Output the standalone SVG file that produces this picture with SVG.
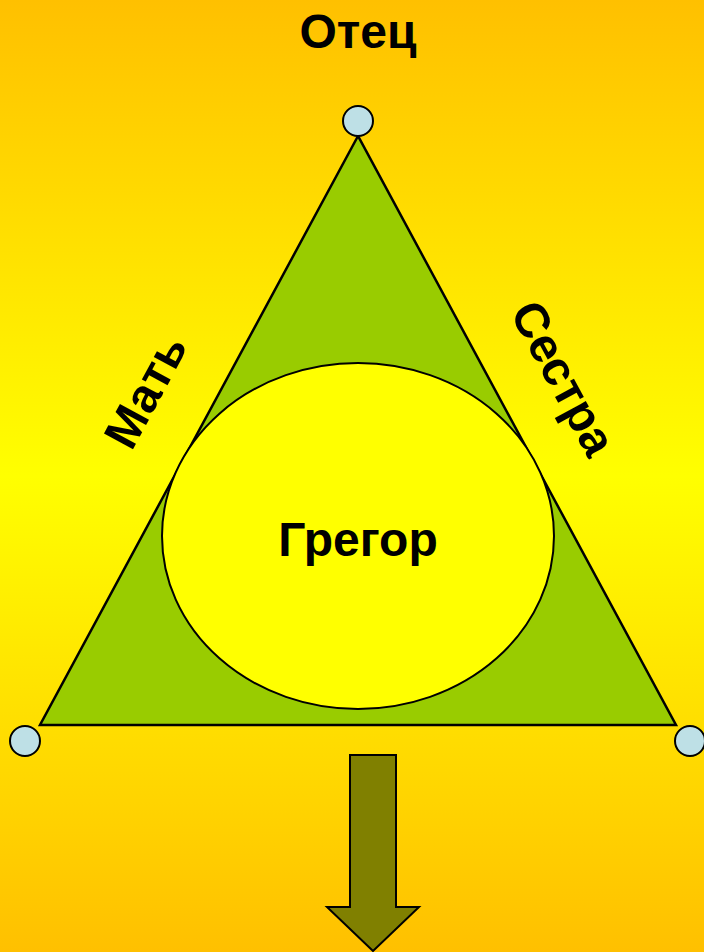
<svg xmlns="http://www.w3.org/2000/svg" width="704" height="952" viewBox="0 0 704 952">
<defs>
<linearGradient id="bg" x1="0" y1="0" x2="0" y2="1">
<stop offset="0" stop-color="#FFC000"/>
<stop offset="0.5" stop-color="#FFFF00"/>
<stop offset="1" stop-color="#FFC000"/>
</linearGradient>
<style>
.t{font-family:"Liberation Sans",Arial,sans-serif;font-weight:bold;font-size:48px;fill:#000;text-anchor:middle}
.v{fill:#BEE0E6;stroke:#000;stroke-width:2}
</style>
</defs>
<rect width="704" height="952" fill="url(#bg)"/>
<g id="triangle">
<polygon points="358,136 40,725 676,725" fill="#99CC00" stroke="#000" stroke-width="2.5"/>
</g>
<g id="gregor">
<ellipse cx="358" cy="536" rx="196" ry="173" fill="#FFFF00" stroke="#000" stroke-width="2"/>
<text class="t" x="358" y="556">Грегор</text>
</g>
<g id="otec">
<circle class="v" cx="358" cy="121" r="15"/>
<text class="t" x="358" y="48">Отец</text>
</g>
<g id="v-left"><circle class="v" cx="25" cy="741" r="15"/></g>
<g id="v-right"><circle class="v" cx="690" cy="741" r="15"/></g>
<g id="mat"><text class="t" transform="translate(160,399) rotate(-61.6)">Мать</text></g>
<g id="sestra"><text class="t" transform="translate(549,386) rotate(61.6)">Сестра</text></g>
<g id="connectors">
<polygon points="350,755 396,755 396,907 419,907 373,951 327,907 350,907" fill="#808000" stroke="#000" stroke-width="2"/>
</g>
</svg>
